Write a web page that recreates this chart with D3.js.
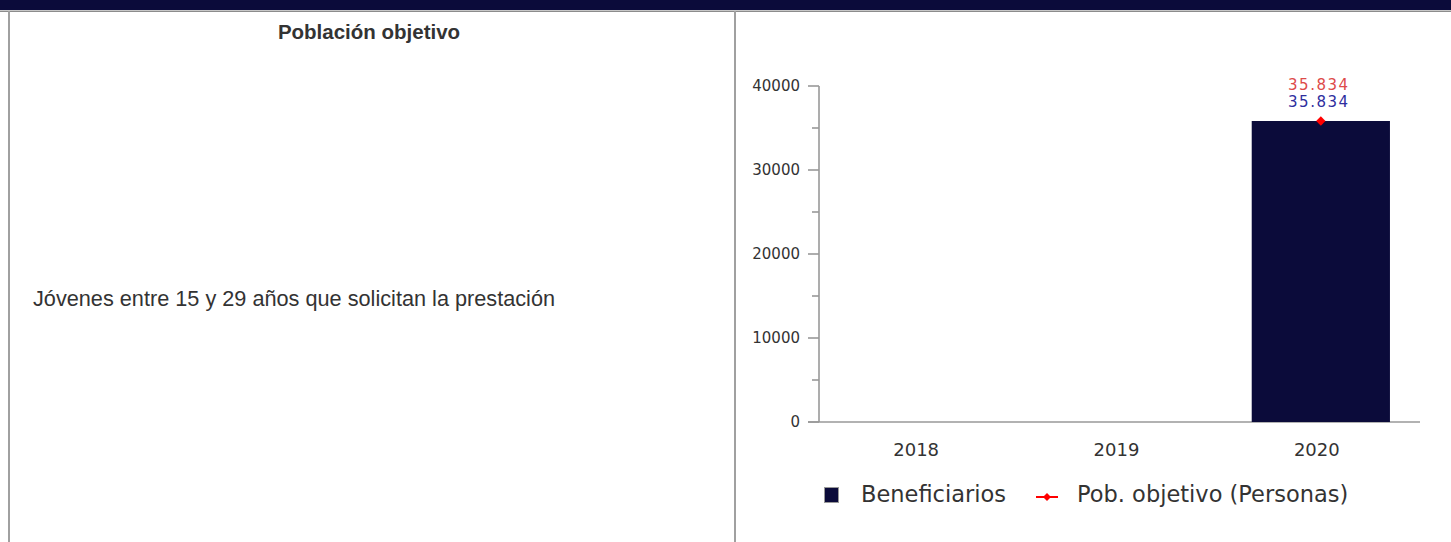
<!DOCTYPE html>
<html>
<head>
<meta charset="utf-8">
<script src="https://cdn.jsdelivr.net/npm/d3@7/dist/d3.min.js"></script>
<style>
  html, body { margin: 0; padding: 0; background: #ffffff; }
  svg { display: block; }
</style>
</head>
<body>
<svg id="chart" width="1451" height="542"></svg>
<script>
// ---- data ----
const years = ["2018", "2019", "2020"];
const beneficiarios = [null, null, 35834];
const poblacionObjetivo = [null, null, 35834];
const yTicks = [0, 10000, 20000, 30000, 40000];
const yMinorTicks = [5000, 15000, 25000, 35000];
const leftTitle = "Población objetivo";
const leftText = "Jóvenes entre 15 y 29 años que solicitan la prestación";
const legendLabels = ["Beneficiarios", "Pob. objetivo (Personas)"];

const svg = d3.select("#chart");
const navy = "#0b0b3a";
const grid = "#999999";

// ---- page frame ----
svg.append("rect").attr("x", 0).attr("y", 0).attr("width", 1451).attr("height", 10).attr("fill", navy);
svg.append("rect").attr("x", 0).attr("y", 10).attr("width", 1451).attr("height", 1).attr("fill", "#c8c8c8");
svg.append("rect").attr("x", 0).attr("y", 11).attr("width", 1451).attr("height", 1).attr("fill", "#8c8c8c");
svg.append("rect").attr("x", 8).attr("y", 11).attr("width", 2).attr("height", 531).attr("fill", "#a0a0a0");
svg.append("rect").attr("x", 734).attr("y", 11).attr("width", 2).attr("height", 531).attr("fill", "#a0a0a0");

svg.append("text").attr("x", 369).attr("y", 39).attr("text-anchor", "middle")
  .attr("font-family", "Liberation Sans, Arial, sans-serif").attr("font-weight", "bold")
  .attr("font-size", 20.5).attr("fill", "#333").text(leftTitle);
svg.append("text").attr("x", 33).attr("y", 306)
  .attr("font-family", "Liberation Sans, Arial, sans-serif")
  .attr("font-size", 21.7).attr("fill", "#333").text(leftText);

// ---- scales ----
const x = d3.scaleBand().domain(years).range([819, 1420]).padding(0);
const y = d3.scaleLinear().domain([0, 40000]).range([422, 86]);
const barW = x.bandwidth() * 0.69;
const font = "DejaVu Sans, sans-serif";

// ---- axes ----
const yAxis = svg.append("g");
yAxis.append("line").attr("x1", 819).attr("x2", 819).attr("y1", y(40000)).attr("y2", y(0))
  .attr("stroke", grid).attr("stroke-width", 1.6);
yAxis.selectAll("line.major").data(yTicks).join("line").attr("class", "major")
  .attr("x1", 808).attr("x2", 819).attr("y1", d => y(d)).attr("y2", d => y(d))
  .attr("stroke", grid).attr("stroke-width", 1.6);
yAxis.selectAll("line.minor").data(yMinorTicks).join("line").attr("class", "minor")
  .attr("x1", 812).attr("x2", 819).attr("y1", d => y(d)).attr("y2", d => y(d))
  .attr("stroke", grid).attr("stroke-width", 1.6);
yAxis.selectAll("text").data(yTicks).join("text")
  .attr("x", 800).attr("y", d => y(d)).attr("dy", "0.36em").attr("text-anchor", "end")
  .attr("font-family", font).attr("font-size", 15).attr("fill", "#333").text(d => d);

svg.append("line").attr("x1", 808).attr("x2", 1420).attr("y1", y(0)).attr("y2", y(0))
  .attr("stroke", grid).attr("stroke-width", 1.6);
svg.selectAll("text.xl").data(years).join("text").attr("class", "xl")
  .attr("x", d => x(d) + x.bandwidth() / 2 - 3).attr("y", 456).attr("text-anchor", "middle")
  .attr("font-family", font).attr("font-size", 18).attr("fill", "#333").text(d => d);

// ---- bars ----
const barData = years.map((yr, i) => ({ yr, v: beneficiarios[i] })).filter(d => d.v != null);
svg.selectAll("rect.bar").data(barData).join("rect").attr("class", "bar")
  .attr("x", d => x(d.yr) + (x.bandwidth() - barW) / 2 + 1)
  .attr("width", barW)
  .attr("y", d => y(d.v)).attr("height", d => y(0) - y(d.v))
  .attr("fill", navy);

// ---- target points ----
const ptData = years.map((yr, i) => ({ yr, v: poblacionObjetivo[i] })).filter(d => d.v != null);
const diamond = d3.symbol().type(d3.symbolDiamond2).size(55);
svg.selectAll("path.pt").data(ptData).join("path").attr("class", "pt")
  .attr("transform", d => `translate(${x(d.yr) + x.bandwidth() / 2 + 1},${y(d.v)})`)
  .attr("d", diamond).attr("fill", "#ff0000");

// ---- value labels ----
const fmt = v => d3.format(",")(v).replace(/,/g, ".");
svg.selectAll("text.vr").data(ptData).join("text").attr("class", "vr")
  .attr("x", d => x(d.yr) + x.bandwidth() / 2 - 1).attr("y", 90).attr("text-anchor", "middle")
  .attr("font-family", font).attr("font-size", 15).attr("letter-spacing", 1.5)
  .attr("fill", "#dd4a4a").text(d => fmt(d.v));
svg.selectAll("text.vb").data(barData).join("text").attr("class", "vb")
  .attr("x", d => x(d.yr) + x.bandwidth() / 2 - 1).attr("y", 107).attr("text-anchor", "middle")
  .attr("font-family", font).attr("font-size", 15).attr("letter-spacing", 1.5)
  .attr("fill", "#2e2e9e").text(d => fmt(d.v));

// ---- legend ----
const lg = svg.append("g");
lg.append("rect").attr("x", 824.5).attr("y", 487.5).attr("width", 14).attr("height", 15)
  .attr("fill", navy).attr("stroke", "#999").attr("stroke-width", 1);
lg.append("text").attr("x", 861).attr("y", 502).attr("font-family", font).attr("font-size", 22.5)
  .attr("fill", "#333").text(legendLabels[0]);
lg.append("line").attr("x1", 1036).attr("x2", 1058).attr("y1", 497).attr("y2", 497)
  .attr("stroke", "#ff0000").attr("stroke-width", 2);
lg.append("path").attr("transform", "translate(1047,497)").attr("d", d3.symbol().type(d3.symbolDiamond2).size(40))
  .attr("fill", "#ff0000");
lg.append("text").attr("x", 1077).attr("y", 502).attr("font-family", font).attr("font-size", 22.5)
  .attr("fill", "#333").text(legendLabels[1]);
</script>
</body>
</html>
